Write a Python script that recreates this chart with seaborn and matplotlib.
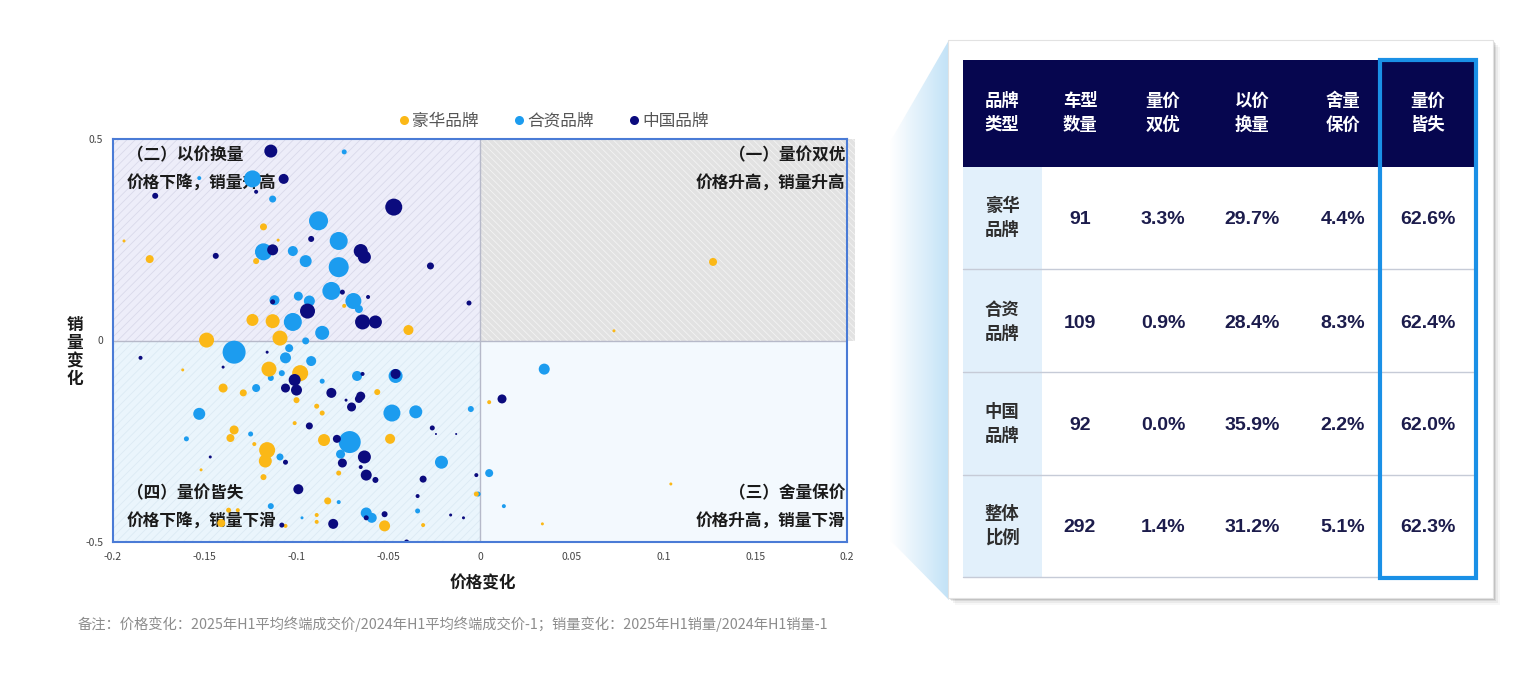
import numpy as np
import pandas as pd
import matplotlib
matplotlib.use("Agg")
import matplotlib.pyplot as plt
import seaborn as sns
from matplotlib.patches import Rectangle, Polygon
from matplotlib.lines import Line2D
from matplotlib.colors import LinearSegmentedColormap

sns.set_theme(style="white")
plt.rcParams["font.family"] = ["Noto Sans CJK SC", "DejaVu Sans"]
plt.rcParams["hatch.linewidth"] = 0.6
plt.rcParams["axes.unicode_minus"] = False

# ---------------- data ----------------
lux_x = [-0.118, -0.194, -0.180, -0.122, -0.110, -0.124, -0.113, -0.149, -0.109, -0.039,
         -0.074, 0.127, 0.073, -0.115, -0.098, -0.140, -0.129, -0.100, -0.162, -0.101,
         -0.134, -0.136, -0.123, -0.116, -0.117, -0.118, -0.152, -0.137, -0.132, -0.141,
         -0.106, -0.056, -0.089, -0.086, -0.085, -0.049, -0.077, -0.083, -0.089, -0.052,
         -0.031, -0.002, 0.005, 0.034, 0.104, -0.089]
lux_y = [0.282, 0.247, 0.202, 0.197, 0.249, 0.051, 0.048, 0.001, 0.006, 0.026,
         0.086, 0.195, 0.024, -0.071, -0.081, -0.118, -0.130, -0.148, -0.073, -0.205,
         -0.222, -0.242, -0.257, -0.272, -0.299, -0.339, -0.321, -0.421, -0.421, -0.453,
         -0.460, -0.128, -0.163, -0.180, -0.247, -0.244, -0.329, -0.398, -0.450, -0.460,
         -0.458, -0.381, -0.153, -0.455, -0.356, -0.433]
lux_v = [49, 9, 64, 36, 9, 144, 196, 225, 225, 100,
         16, 64, 9, 225, 256, 81, 49, 36, 9, 16,
         81, 64, 16, 256, 169, 36, 9, 25, 16, 64,
         16, 36, 25, 25, 144, 100, 25, 49, 16, 121,
         16, 25, 16, 9, 9, 16]

jv_x = [-0.124, -0.113, -0.153, -0.118, -0.102, -0.112, -0.099, -0.102, -0.074, -0.088,
        -0.077, -0.095, -0.077, -0.081, -0.093, -0.069, -0.066, -0.086, -0.095, -0.134,
        -0.104, -0.106, -0.114, -0.108, -0.122, -0.153, -0.125, -0.160, -0.109, -0.114,
        -0.092, -0.086, -0.067, -0.046, -0.048, -0.035, -0.005, -0.071, -0.076, -0.021,
        0.005, -0.077, -0.001, -0.034, -0.062, -0.059, -0.097, 0.035, 0.013]
jv_y = [0.401, 0.351, 0.403, 0.220, 0.222, 0.100, 0.110, 0.046, 0.468, 0.297,
        0.247, 0.197, 0.182, 0.123, 0.098, 0.098, 0.078, 0.019, -0.001, -0.029,
        -0.019, -0.043, -0.093, -0.081, -0.118, -0.182, -0.232, -0.244, -0.289, -0.411,
        -0.051, -0.101, -0.088, -0.088, -0.180, -0.177, -0.170, -0.252, -0.282, -0.302,
        -0.329, -0.401, -0.381, -0.423, -0.428, -0.440, -0.440, -0.071, -0.411]
jv_v = [289, 49, 16, 289, 100, 100, 81, 324, 25, 361,
        324, 144, 400, 324, 121, 256, 64, 196, 49, 529,
        64, 121, 36, 36, 64, 144, 25, 25, 49, 36,
        100, 25, 100, 196, 289, 169, 36, 484, 81, 169,
        64, 16, 25, 25, 121, 100, 9, 121, 16]

cn_x = [-0.114, -0.107, -0.177, -0.122, -0.144, -0.113, -0.113, -0.047, -0.092, -0.065,
        -0.063, -0.027, -0.075, -0.061, -0.094, -0.006, -0.064, -0.057, -0.185, -0.116,
        -0.101, -0.106, -0.100, -0.140, -0.106, -0.147, -0.099, -0.108, -0.064, -0.046,
        -0.081, -0.065, -0.066, -0.073, -0.070, -0.093, -0.078, -0.026, -0.024, -0.013,
        -0.063, -0.075, -0.065, -0.062, -0.057, -0.031, -0.002, -0.034, -0.062, -0.052,
        -0.080, -0.016, -0.009, -0.040, 0.012]
cn_y = [0.470, 0.401, 0.359, 0.369, 0.210, 0.225, 0.096, 0.331, 0.252, 0.222,
        0.207, 0.185, 0.120, 0.108, 0.073, 0.093, 0.046, 0.046, -0.043, -0.029,
        -0.098, -0.118, -0.123, -0.066, -0.302, -0.289, -0.369, -0.458, -0.083, -0.083,
        -0.130, -0.138, -0.145, -0.148, -0.165, -0.212, -0.244, -0.217, -0.232, -0.232,
        -0.289, -0.304, -0.314, -0.334, -0.346, -0.344, -0.334, -0.386, -0.440, -0.431,
        -0.455, -0.433, -0.440, -0.500, -0.145]
cn_v = [169, 100, 36, 16, 36, 121, 25, 289, 36, 196,
        169, 49, 25, 16, 225, 25, 225, 169, 16, 9,
        144, 81, 121, 9, 25, 9, 100, 25, 16, 100,
        100, 81, 64, 9, 81, 49, 64, 25, 4, 4,
        169, 81, 16, 121, 36, 49, 16, 16, 25, 36,
        100, 9, 9, 25, 81]

brands = ["豪华品牌", "合资品牌", "中国品牌"]
brand_colors = {"豪华品牌": "#FBB817", "合资品牌": "#1C9CEF", "中国品牌": "#0B0B7E"}

x_ticks = [-0.2, -0.15, -0.1, -0.05, 0, 0.05, 0.1, 0.15, 0.2]
x_tick_labels = ["-0.2", "-0.15", "-0.1", "-0.05", "0", "0.05", "0.1", "0.15", "0.2"]
y_ticks = [0.5, 0, -0.5]
y_tick_labels = ["0.5", "0", "-0.5"]

quad_titles = ["（一）量价双优", "（二）以价换量", "（三）舍量保价", "（四）量价皆失"]
quad_desc = ["价格升高，销量升高", "价格下降，销量升高", "价格升高，销量下滑", "价格下降，销量下滑"]

table_header = ["品牌\n类型", "车型\n数量", "量价\n双优", "以价\n换量", "舍量\n保价", "量价\n皆失"]
table_rows = ["豪华\n品牌", "合资\n品牌", "中国\n品牌", "整体\n比例"]
model_count = [91, 109, 92, 292]
pct_both_up = [3.3, 0.9, 0.0, 1.4]
pct_price_for_vol = [29.7, 28.4, 35.9, 31.2]
pct_vol_for_price = [4.4, 8.3, 2.2, 5.1]
pct_both_down = [62.6, 62.4, 62.0, 62.3]

note = "备注：价格变化：2025年H1平均终端成交价/2024年H1平均终端成交价-1；销量变化：2025年H1销量/2024年H1销量-1"

df = pd.concat([
    pd.DataFrame({"price": jv_x, "vol": jv_y, "scale": jv_v, "brand": "合资品牌"}),
    pd.DataFrame({"price": lux_x, "vol": lux_y, "scale": lux_v, "brand": "豪华品牌"}),
    pd.DataFrame({"price": cn_x, "vol": cn_y, "scale": cn_v, "brand": "中国品牌"}),
], ignore_index=True)

# ---------------- figure ----------------
W, H = 1525, 685
fig = plt.figure(figsize=(W / 100, H / 100), dpi=100)
fig.patch.set_facecolor("white")

# overlay for table / connector
ov = fig.add_axes([0, 0, 1, 1], zorder=0)
ov.set_axis_off()
ov.patch.set_visible(False)

ax = fig.add_axes([113 / W, 1 - 542 / H, 734 / W, 403 / H], zorder=1)
ax.set_facecolor("white")
ax.set_xlim(-0.2, 0.2)
ax.set_ylim(-0.5, 0.5)

# quadrant backgrounds
ax.add_patch(Rectangle((-0.2, 0), 0.2, 0.5, facecolor="#EDEDF9", edgecolor="#D9D9EA",
                       hatch="////", linewidth=0, zorder=0))
ax.add_patch(Rectangle((0, 0), 0.2045, 0.5, facecolor="#E2E2E2", edgecolor="#F3F3F3",
                       hatch="\\" * 5, linewidth=0, zorder=0, clip_on=False))
ax.add_patch(Rectangle((-0.2, -0.5), 0.2, 0.5, facecolor="#EAF5FC", edgecolor="#DCEAF4",
                       hatch="////", linewidth=0, zorder=0))
ax.add_patch(Rectangle((0, -0.5), 0.2, 0.5, facecolor="#F3F9FE", linewidth=0, zorder=0))
ax.axvline(0, color="#B6B9C9", lw=1.0, zorder=1)
ax.axhline(0, color="#B6B9C9", lw=1.0, zorder=1)

# quadrant labels
tkw = dict(fontsize=12, fontweight="bold", color="#1A1A1A", zorder=2, va="center")
ax.text(0.1989, 0.460, quad_titles[0], ha="right", **tkw)
ax.text(0.1989, 0.388, quad_desc[0], ha="right", **tkw)
ax.text(-0.1924, 0.460, quad_titles[1], ha="left", **tkw)
ax.text(-0.1924, 0.388, quad_desc[1], ha="left", **tkw)
ax.text(0.1989, -0.378, quad_titles[2], ha="right", **tkw)
ax.text(0.1989, -0.450, quad_desc[2], ha="right", **tkw)
ax.text(-0.1924, -0.378, quad_titles[3], ha="left", **tkw)
ax.text(-0.1924, -0.450, quad_desc[3], ha="left", **tkw)

sns.scatterplot(data=df, x="price", y="vol", hue="brand", size="scale",
                palette=brand_colors, sizes=(0.5184 * 4, 0.5184 * 529), size_norm=(4, 529),
                linewidth=0, alpha=1, legend=False, ax=ax, zorder=3)

ax.set_xticks(x_ticks)
ax.set_xticklabels(x_tick_labels)
ax.set_yticks(y_ticks)
ax.set_yticklabels(y_tick_labels)
ax.tick_params(length=0, labelsize=7.5, labelcolor="#444444", pad=7)
for s in ax.spines.values():
    s.set_color("#4A7BD6")
    s.set_linewidth(1.5)
    s.set_visible(True)
    s.set_zorder(4)

ax.set_xlabel("价格变化", fontsize=12, fontweight="bold", color="#1A1A1A", va="center")
ax.xaxis.set_label_coords((483 - 113) / 734, (542 - 583) / 403)
ax.set_ylabel("销\n量\n变\n化", fontsize=12, fontweight="bold", color="#1A1A1A",
              rotation=0, linespacing=1.0, va="center", ha="center")
ax.yaxis.set_label_coords((75 - 113) / 734, (542 - 352) / 403)

handles = [Line2D([0], [0], marker="o", linestyle="none", markersize=6.5,
                  markerfacecolor=brand_colors[b], markeredgewidth=0) for b in brands]
fig.legend(handles, brands, loc="center", bbox_to_anchor=(552 / W, 1 - 121 / H), ncol=3,
           frameon=False, fontsize=12, handletextpad=0.0, columnspacing=1.9,
           handlelength=1.0, labelcolor="#555555")

fig.text(78 / W, 1 - 624 / H, note, fontsize=10.3, color="#8C8C8C", va="center", ha="left")

# ---------------- connector + table card ----------------
grad = np.linspace(0, 1, 256).reshape(1, -1)
cmap = LinearSegmentedColormap.from_list("g", ["#FFFFFF", "#C2E2F7"])
im = ov.imshow(grad, extent=[890, 949, 600, 40], cmap=cmap, aspect="auto", zorder=1)
poly = Polygon([(890, 142), (949, 40), (949, 600), (890, 540)], closed=True,
               facecolor="none", edgecolor="none")
ov.add_patch(poly)
im.set_clip_path(poly)

for off, a in [(7, 0.03), (5, 0.05), (3, 0.08), (1.5, 0.10)]:
    ov.add_patch(Rectangle((948 + off, 40 + off), 545, 558, facecolor="#000000",
                           alpha=a, edgecolor="none", zorder=2))
ov.add_patch(Rectangle((948, 40), 545, 558, facecolor="white", edgecolor="#E2E2E2",
                       lw=0.8, zorder=3))
ov.add_patch(Rectangle((963, 60), 512, 107, facecolor="#06064F", edgecolor="none", zorder=4))
ov.add_patch(Rectangle((963, 167), 79, 410, facecolor="#E2F0FB", edgecolor="none", zorder=4))
for yy in [269, 372, 475, 577]:
    ov.plot([963, 1475], [yy, yy], color="#C6CBD7", lw=1, zorder=5)
ov.add_patch(Rectangle((1380, 60), 96, 518, fill=False, edgecolor="#1A90E6", lw=3, zorder=7))

col_x = [1002, 1080, 1163, 1252, 1343, 1428]
row_y = [218, 322, 424, 526]
head_y = 114

def two_lines(x, y, s, **kw):
    a, b = s.split("\n")
    ov.text(x, y - 12, a, ha="center", va="center", **kw)
    ov.text(x, y + 12, b, ha="center", va="center", **kw)

for cx, h in zip(col_x, table_header):
    two_lines(cx, head_y - 1, h, fontsize=12.5, fontweight="bold", color="white", zorder=6)

num_font = ["Liberation Sans Narrow", "Liberation Sans", "DejaVu Sans"]
for i, ry in enumerate(row_y):
    two_lines(col_x[0], ry, table_rows[i], fontsize=12.5, fontweight="bold",
              color="#2E2E2E", zorder=6)
    vals = [str(model_count[i]), f"{pct_both_up[i]:.1f}%", f"{pct_price_for_vol[i]:.1f}%",
            f"{pct_vol_for_price[i]:.1f}%", f"{pct_both_down[i]:.1f}%"]
    for cx, v in zip(col_x[1:], vals):
        ov.text(cx, ry + 1, v, ha="center", va="center", fontsize=14, fontweight="bold",
                family=num_font, color="#1C1C4C", zorder=6)

ov.set_xlim(0, W)
ov.set_ylim(H, 0)

fig.savefig("out.png", dpi=100, facecolor="white")
